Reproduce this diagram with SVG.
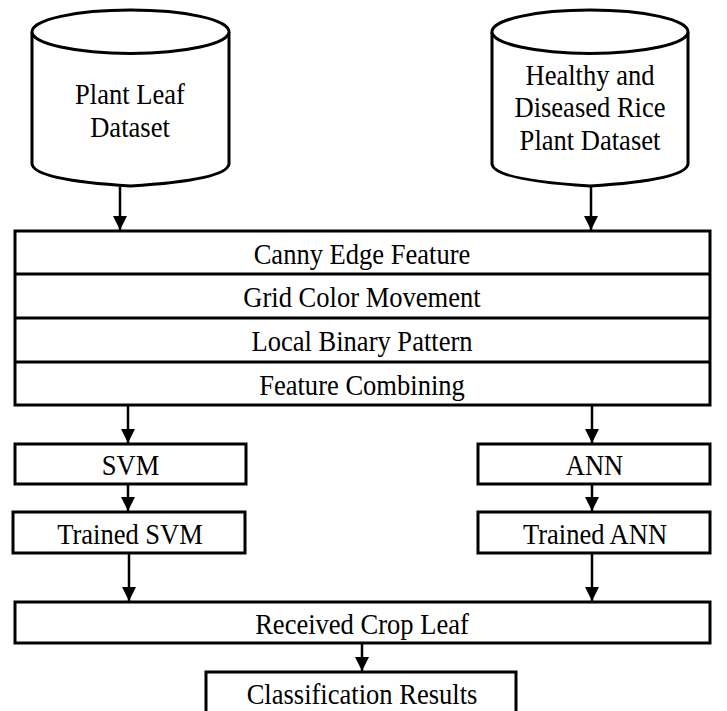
<svg xmlns="http://www.w3.org/2000/svg" width="727" height="711" viewBox="0 0 727 711">
<defs>
<marker id="arr" viewBox="0 0 14 14" refX="14" refY="7" markerWidth="14" markerHeight="14" markerUnits="userSpaceOnUse" orient="auto">
<path d="M0,0 L14,7 L0,14 Z" fill="#000"/>
</marker>
</defs>
<style>
.s{fill:#fff;stroke:#000;stroke-width:3}
.l{stroke:#000;stroke-width:3}
.t{font-family:"Liberation Serif","Times New Roman",serif;font-size:30px;fill:#000;text-anchor:middle}
.c{stroke:#000;stroke-width:2.5;fill:none;marker-end:url(#arr)}
</style>
<rect width="727" height="711" fill="#fff"/>
<g id="plant-leaf-dataset">
<path class="s" d="M32,32 L32,164 Q34,180 130.5,186 Q227,180 229,164 L229,32"/>
<ellipse class="s" cx="130.5" cy="31.7" rx="98.5" ry="21.7"/>
<text class="t" transform="translate(130,104) scale(0.885,1)">Plant Leaf</text>
<text class="t" transform="translate(130,137) scale(0.885,1)">Dataset</text>
</g>
<g id="rice-dataset">
<path class="s" d="M492,32 L492,164 Q494,180 590,186 Q686,180 688,164 L688,32"/>
<ellipse class="s" cx="590" cy="31.7" rx="98" ry="21.7"/>
<text class="t" transform="translate(590,84.5) scale(0.885,1)">Healthy and</text>
<text class="t" transform="translate(590,117) scale(0.885,1)">Diseased Rice</text>
<text class="t" transform="translate(590,149.5) scale(0.885,1)">Plant Dataset</text>
</g>
<g id="features">
<rect class="s" x="15" y="231" width="695" height="174"/>
<line class="l" x1="15" y1="274" x2="710" y2="274"/>
<line class="l" x1="15" y1="318" x2="710" y2="318"/>
<line class="l" x1="15" y1="362" x2="710" y2="362"/>
<text class="t" transform="translate(362,263.5) scale(0.885,1)">Canny Edge Feature</text>
<text class="t" transform="translate(362,307) scale(0.885,1)">Grid Color Movement</text>
<text class="t" transform="translate(362,351) scale(0.885,1)">Local Binary Pattern</text>
<text class="t" transform="translate(362,395) scale(0.885,1)">Feature Combining</text>
</g>
<g id="svm">
<rect class="s" x="15" y="444" width="231" height="40"/>
<text class="t" transform="translate(130.5,475) scale(0.885,1)">SVM</text>
</g>
<g id="ann">
<rect class="s" x="478" y="444" width="232" height="40"/>
<text class="t" transform="translate(594.5,475) scale(0.885,1)">ANN</text>
</g>
<g id="trained-svm">
<rect class="s" x="13" y="512" width="232" height="41"/>
<text class="t" transform="translate(130,544) scale(0.885,1)">Trained SVM</text>
</g>
<g id="trained-ann">
<rect class="s" x="478" y="512" width="232" height="41"/>
<text class="t" transform="translate(595,544) scale(0.885,1)">Trained ANN</text>
</g>
<g id="received">
<rect class="s" x="15" y="602" width="695" height="41"/>
<text class="t" transform="translate(362,634) scale(0.885,1)">Received Crop Leaf</text>
</g>
<g id="classification">
<rect class="s" x="206" y="672" width="310" height="45"/>
<text class="t" transform="translate(362,704) scale(0.885,1)">Classification Results</text>
</g>
<g id="connectors">
<line class="c" x1="120" y1="187" x2="120" y2="230"/>
<line class="c" x1="591" y1="187" x2="591" y2="230"/>
<line class="c" x1="128" y1="406" x2="128" y2="443"/>
<line class="c" x1="592" y1="406" x2="592" y2="443"/>
<line class="c" x1="128" y1="485" x2="128" y2="511"/>
<line class="c" x1="592" y1="485" x2="592" y2="511"/>
<line class="c" x1="129" y1="554" x2="129" y2="601"/>
<line class="c" x1="592" y1="554" x2="592" y2="601"/>
<line class="c" x1="362" y1="644" x2="362" y2="671"/>
</g>
</svg>
